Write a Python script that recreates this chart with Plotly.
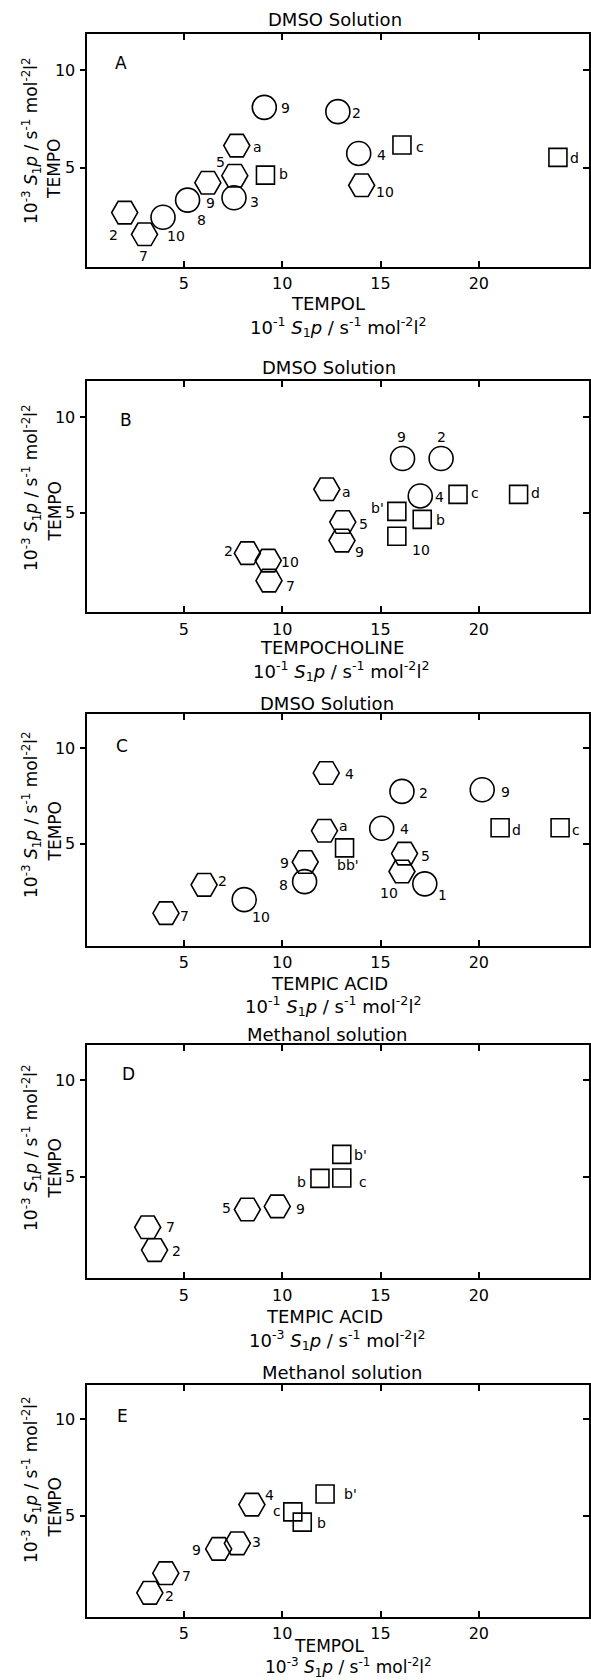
import plotly.graph_objects as go

W, H = 591, 1680
FONT = "DejaVu Sans"

# ---------------- data ----------------
# Panel A : DMSO, TEMPO vs TEMPOL
A_x = [1.99, 3.00, 3.94, 5.19, 6.22, 7.59, 7.55, 7.69, 9.15, 9.09, 12.83, 13.89, 14.04, 16.09, 24.02]
A_y = [2.70, 1.59, 2.46, 3.34, 4.23, 4.59, 3.46, 6.13, 4.62, 8.09, 7.87, 5.73, 4.10, 6.16, 5.53]
A_kind = ["hex", "hex", "circ", "circ", "hex", "hex", "circ", "hex", "sq", "circ", "circ", "circ", "hex", "sq", "sq"]
A_lab = ["2", "7", "10", "8", "9", "5", "3", "a", "b", "9", "2", "4", "10", "c", "d"]

# Panel B : DMSO, TEMPO vs TEMPOCHOLINE
B_x = [8.23, 9.29, 9.33, 12.27, 13.08, 13.04, 15.83, 15.83, 16.12, 18.08, 17.02, 17.12, 18.94, 22.02]
B_y = [2.88, 2.49, 1.44, 6.23, 4.51, 3.54, 5.07, 3.77, 7.84, 7.84, 5.88, 4.65, 5.96, 5.96]
B_kind = ["hex", "hex", "hex", "hex", "hex", "hex", "sq", "sq", "circ", "circ", "circ", "sq", "sq", "sq"]
B_lab = ["2", "10", "7", "a", "5", "9", "b'", "10", "9", "2", "4", "b", "c", "d"]

# Panel C : DMSO, TEMPO vs TEMPIC ACID
C_x = [4.09, 6.03, 8.07, 11.17, 11.14, 12.24, 12.15, 13.17, 15.06, 16.09, 16.22, 16.09, 17.25, 20.17, 21.08, 24.13]
C_y = [1.34, 2.83, 2.05, 4.03, 3.00, 8.71, 5.67, 4.77, 5.80, 7.74, 4.47, 3.53, 2.88, 7.83, 5.83, 5.83]
C_kind = ["hex", "hex", "circ", "hex", "circ", "hex", "hex", "sq", "circ", "circ", "hex", "hex", "circ", "circ", "sq", "sq"]
C_lab = ["7", "2", "10", "9", "8", "4", "a", "bb'", "4", "2", "5", "10", "1", "9", "d", "c"]

# Panel D : Methanol, TEMPO vs TEMPIC ACID
D_x = [3.16, 3.51, 8.23, 9.75, 11.92, 13.03, 13.03]
D_y = [2.38, 1.20, 3.30, 3.46, 4.91, 4.93, 6.15]
D_kind = ["hex", "hex", "hex", "hex", "sq", "sq", "sq"]
D_lab = ["7", "2", "5", "9", "b", "c", "b'"]

# Panel E : Methanol, TEMPO vs TEMPOL
E_x = [3.27, 4.08, 6.77, 7.72, 8.46, 10.54, 11.02, 12.18]
E_y = [0.99, 2.01, 3.27, 3.56, 5.57, 5.19, 4.66, 6.12]
E_kind = ["hex", "hex", "hex", "hex", "hex", "sq", "sq", "sq"]
E_lab = ["2", "7", "9", "3", "4", "c", "b", "b'"]

panel_letters = ["A", "B", "C", "D", "E"]
panel_titles = ["DMSO Solution", "DMSO Solution", "DMSO Solution", "Methanol solution", "Methanol solution"]
x_names = ["TEMPOL", "TEMPOCHOLINE", "TEMPIC ACID", "TEMPIC ACID", "TEMPOL"]
x_exps = ["-1", "-1", "-1", "-3", "-3"]
y_name = "TEMPO"
y_exp = "-3"
x_ticks = [5, 10, 15, 20]
y_ticks = [5, 10]

# ---------------- label offsets (px, style only) ----------------
A_dx = [-11, -1, 13, 14, 3, -14, 20, 21, 18, 21, 19, 23, 23, 18, 17]
A_dy = [-22, -22, -19, -20, -20, 14, -4, -1, 1, -1, -1, -2, -7, -2, -1]
B_dx = [-19, 22, 21, 20, 21, 18, -19, 24, -1, 0, 19, 18, 17, 17]
B_dy = [2, -1, -5, -3, -2, -11, 3, -14, 22, 22, -1, -1, 1, 1]
C_dx = [19, 18, 17, -21, -21, 23, 19, 3, 23, 22, 21, -13, 18, 23, 16, 16]
C_dy = [-3, 4, -17, -1, -3, -1, 5, -17, -1, -2, -2, -21, -11, -2, -2, -2]
D_dx = [23, 22, -21, 23, -18, 21, 19]
D_dy = [0, -1, 1, -3, -4, -4, -1]
E_dx = [20, 21, -22, 19, 18, -16, 19, 25]
E_dy = [-3, -3, -1, 1, 10, 1, -1, 0]

panels = [
    (A_x, A_y, A_kind, A_lab, A_dx, A_dy),
    (B_x, B_y, B_kind, B_lab, B_dx, B_dy),
    (C_x, C_y, C_kind, C_lab, C_dx, C_dy),
    (D_x, D_y, D_kind, D_lab, D_dx, D_dy),
    (E_x, E_y, E_kind, E_lab, E_dx, E_dy),
]

# ---------------- geometry (pixels) ----------------
X_LEFT, X_RIGHT = 86.5, 589.0
TOPS = [34.3, 380.7, 714.0, 1045.0, 1385.0]
BOTTOMS = [266.7, 612.3, 945.5, 1278.3, 1616.7]
X_RANGE = [0.05, 25.6]
Y_RANGES = [[-0.07, 11.83], [-0.22, 11.92], [-0.36, 11.81], [-0.26, 11.81], [-0.25, 11.78]]
TITLE_POS = [(335, 20), (329, 367), (327, 703), (327, 1034), (342, 1372)]
XNAME_POS = [(328, 303), (332, 648), (329, 983), (325, 1316), (329, 1646)]
XUNIT_POS = [(338, 327), (341, 671), (333, 1006), (337, 1340), (348, 1667)]
XNAME_SIZE = [18, 18, 18, 18, 17]
XUNIT_SIZE = [18, 18, 18, 18, 17]
YNAME_POS = [(54.5, 169.5), (54.5, 512), (54.5, 832), (54.5, 1169), (54.5, 1508)]
YUNIT_POS = [(31, 141), (31, 488), (31, 815), (31, 1148), (31, 1480)]
LETTER_POS = [(121, 63), (126, 420), (122, 746), (128, 1074), (122, 1416)]

SYMBOL = {"circ": "circle-open", "hex": "hexagon2-open", "sq": "square-open"}
SIZE = {"circ": 24, "hex": 26, "sq": 18}


def px(xp):
    return xp / W


def py(yp):
    return 1 - yp / H


def unit_text(exp):
    return ("10<sup>" + exp + "</sup> <i>S</i><sub>1</sub><i>p</i> / s<sup>-1</sup> "
            "mol<sup>-2</sup>l<sup>2</sup>")


def paper_text(pos, text, size, angle=0):
    return dict(x=px(pos[0]), y=py(pos[1]), xref="paper", yref="paper",
                text=text, showarrow=False, textangle=angle,
                xanchor="center", yanchor="middle", borderpad=0,
                font=dict(family=FONT, size=size, color="black"))


fig = go.Figure()
annotations = []
layout_axes = {}

for i, (xs, ys, kinds, labs, dxs, dys) in enumerate(panels):
    n = i + 1
    xa = "x" if n == 1 else f"x{n}"
    ya = "y" if n == 1 else f"y{n}"
    yr = f"y{5 + n}"
    for kind in ["hex", "circ", "sq"]:
        idx = [j for j, k in enumerate(kinds) if k == kind]
        if not idx:
            continue
        fig.add_trace(go.Scatter(
            x=[xs[j] for j in idx], y=[ys[j] for j in idx], mode="markers",
            xaxis=xa, yaxis=ya, showlegend=False, hoverinfo="skip",
            marker=dict(symbol=SYMBOL[kind], size=SIZE[kind], color="black",
                        line=dict(color="black", width=1.6)),
        ))
    # helper trace for the right-hand tick axis
    fig.add_trace(go.Scatter(x=[None], y=[None], xaxis=xa, yaxis=yr,
                             showlegend=False, hoverinfo="skip", mode="markers"))
    for j in range(len(xs)):
        annotations.append(dict(
            x=xs[j], y=ys[j], xref=xa, yref=ya, text=labs[j], showarrow=False,
            xshift=dxs[j], yshift=dys[j], xanchor="center", yanchor="middle",
            font=dict(family=FONT, size=14, color="black")))

    dom_y = [py(BOTTOMS[i]), py(TOPS[i])]
    layout_axes["xaxis" if n == 1 else f"xaxis{n}"] = dict(
        domain=[px(X_LEFT), px(X_RIGHT)], range=X_RANGE, anchor=ya,
        tickmode="array", tickvals=x_ticks, ticks="inside", ticklen=6, tickwidth=1.5,
        tickcolor="black", mirror="ticks", showline=True, linewidth=2, linecolor="black",
        showgrid=False, zeroline=False, ticklabelstandoff=1,
        tickfont=dict(family=FONT, size=16, color="black"))
    layout_axes["yaxis" if n == 1 else f"yaxis{n}"] = dict(
        domain=dom_y, range=Y_RANGES[i], anchor=xa,
        tickmode="array", tickvals=y_ticks, ticks="outside", ticklen=5, tickwidth=1.5,
        tickcolor="black", mirror=True, showline=True, linewidth=2, linecolor="black",
        showgrid=False, zeroline=False, ticklabelstandoff=1,
        tickfont=dict(family=FONT, size=16, color="black"))
    layout_axes[f"yaxis{5 + n}"] = dict(
        overlaying=ya, side="right", anchor=xa, range=Y_RANGES[i],
        tickmode="array", tickvals=y_ticks, ticks="inside", ticklen=6, tickwidth=1.5,
        tickcolor="black", showticklabels=False, showline=False, showgrid=False,
        zeroline=False)

    annotations.append(paper_text(TITLE_POS[i], panel_titles[i], 18))
    annotations.append(paper_text(XNAME_POS[i], x_names[i], XNAME_SIZE[i]))
    annotations.append(paper_text(XUNIT_POS[i], unit_text(x_exps[i]), XUNIT_SIZE[i]))
    annotations.append(paper_text(YNAME_POS[i], y_name, 17, -90))
    annotations.append(paper_text(YUNIT_POS[i], unit_text(y_exp), 17, -90))
    annotations.append(paper_text(LETTER_POS[i], panel_letters[i], 17))

fig.update_layout(
    width=W, height=H, margin=dict(l=0, r=0, t=0, b=0),
    paper_bgcolor="white", plot_bgcolor="white",
    font=dict(family=FONT, color="black"),
    annotations=annotations, showlegend=False,
    **layout_axes,
)

fig.write_html("out.html")
